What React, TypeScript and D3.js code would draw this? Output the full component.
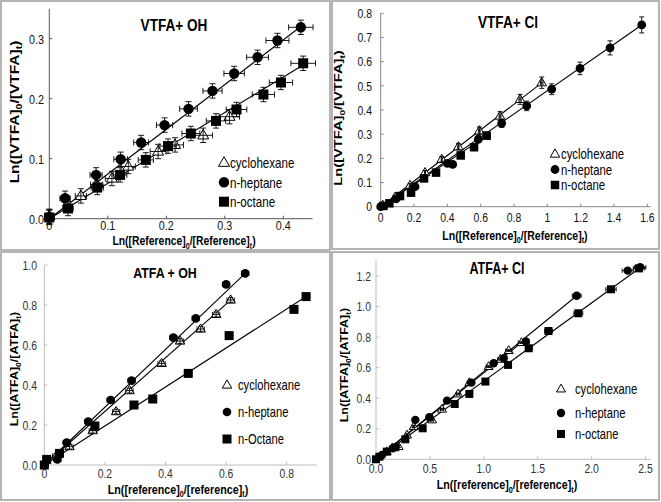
import React from "react";
import * as d3 from "d3";

const FONT = '"Liberation Sans", Arial, Helvetica, sans-serif';
const SX = 0.8; // horizontal squeeze of text, as in the reference

// ---------- Panel 1: VTFA + OH ----------
const p1HeptX = [0, 0.027, 0.08, 0.122, 0.157, 0.197, 0.238, 0.279, 0.316, 0.356, 0.39, 0.43];
const p1HeptY = [0.003, 0.034, 0.073, 0.099, 0.127, 0.156, 0.183, 0.213, 0.242, 0.269, 0.297, 0.319];
const p1OctX = [0, 0.032, 0.082, 0.121, 0.165, 0.203, 0.242, 0.285, 0.32, 0.366, 0.396, 0.434];
const p1OctY = [0.002, 0.017, 0.052, 0.073, 0.098, 0.121, 0.142, 0.163, 0.182, 0.207, 0.227, 0.259];
const p1CycX = [0, 0.054, 0.081, 0.107, 0.135, 0.186, 0.215, 0.263, 0.308];
const p1CycY = [0.004, 0.038, 0.057, 0.067, 0.087, 0.112, 0.123, 0.139, 0.17];
const p1Slopes = [0.745, 0.59]; // heptane, octane
const p1LineEnds = [0.43, 0.434];

// ---------- Panel 2: VTFA + Cl ----------
const p2HeptX = [0, 0.092, 0.206, 0.4, 0.432, 0.586, 0.726, 0.876, 1.026, 1.196, 1.376, 1.566];
const p2HeptY = [0, 0.032, 0.083, 0.179, 0.175, 0.279, 0.345, 0.417, 0.486, 0.572, 0.657, 0.752];
const p2OctX = [0.016, 0.052, 0.116, 0.182, 0.26, 0.332, 0.48, 0.56, 0.636];
const p2OctY = [0.003, 0.014, 0.044, 0.058, 0.117, 0.141, 0.212, 0.246, 0.294];
const p2CycX = [0.012, 0.086, 0.176, 0.266, 0.366, 0.466, 0.592, 0.716, 0.836, 0.966];
const p2CycY = [0.006, 0.039, 0.088, 0.141, 0.196, 0.248, 0.314, 0.375, 0.444, 0.513];
const p2Slopes = [0.53, 0.48, 0.462]; // cyclohexane, heptane, octane
const p2LineEnds = [0.966, 1.566, 0.636];

// ---------- Panel 3: ATFA + OH ----------
const p3HeptX = [0, 0.043, 0.074, 0.145, 0.219, 0.288, 0.426, 0.5, 0.6, 0.663];
const p3HeptY = [0, 0.028, 0.112, 0.217, 0.325, 0.422, 0.637, 0.733, 0.903, 0.958];
const p3OctX = [0, 0.008, 0.05, 0.167, 0.296, 0.358, 0.475, 0.61, 0.824, 0.864];
const p3OctY = [0, 0.028, 0.058, 0.195, 0.3, 0.33, 0.458, 0.647, 0.778, 0.842];
const p3CycX = [0.039, 0.083, 0.16, 0.237, 0.281, 0.387, 0.448, 0.516, 0.567, 0.615];
const p3CycY = [0.045, 0.092, 0.172, 0.267, 0.372, 0.508, 0.62, 0.68, 0.753, 0.825];
const p3Slopes = [1.34, 1.445, 0.975];
const p3LineEnds = [0.615, 0.663, 0.864];

// ---------- Panel 4: ATFA + Cl ----------
const p4HeptX = [0.056, 0.155, 0.365, 0.495, 0.659, 0.885, 1.092, 1.185, 1.39, 1.862, 2.335, 2.45];
const p4HeptY = [0.028, 0.072, 0.258, 0.275, 0.384, 0.502, 0.629, 0.662, 0.771, 1.071, 1.235, 1.257];
const p4OctX = [0, 0.031, 0.1, 0.179, 0.272, 0.433, 0.73, 0.866, 1.015, 1.225, 1.417, 1.6, 1.877, 2.18, 2.44];
const p4OctY = [0, 0.017, 0.05, 0.079, 0.131, 0.203, 0.362, 0.428, 0.509, 0.618, 0.727, 0.84, 0.956, 1.113, 1.25];
const p4CycX = [0.1, 0.21, 0.288, 0.35, 0.52, 0.612, 0.761, 0.866, 1.045, 1.154, 1.231, 1.349];
const p4CycY = [0.05, 0.083, 0.159, 0.214, 0.258, 0.328, 0.428, 0.502, 0.607, 0.655, 0.712, 0.764];
const p4Slopes = [0.566, 0.575, 0.512];
const p4LineEnds = [1.349, 1.862, 2.45];

// ---------- texts ----------
const legendNamesA = ["cyclohexane", "n-heptane", "n-octane"];
const legendNamesB = ["cyclohexane", "n-heptane", "n-Octane"];
const titles = ["VTFA+ OH", "VTFA+ Cl", "ATFA + OH", "ATFA+ Cl"];
const xTitleRef = ["Ln([Reference]", "0", "/[Reference]", "t", ")"];
const xTitleref = ["Ln([reference]", "0", "/[reference]", "t", ")"];
const yTitleV = ["Ln([VTFA]", "0", "/[VTFA]", "t", ")"];
const yTitleA = ["Ln([ATFA]", "0", "/[ATFA]", "t", ")"];

const p1XTicks = [0, 0.1, 0.2, 0.3, 0.4];
const p1XLabels = ["0", "0.1", "0.2", "0.3", "0.4"];
const p1YTicks = [0, 0.1, 0.2, 0.3];
const p1YLabels = ["0.0", "0.1", "0.2", "0.3"];
const p2XTicks = [0, 0.2, 0.4, 0.6, 0.8, 1.0, 1.2, 1.4, 1.6];
const p2XLabels = ["0", "0.2", "0.4", "0.6", "0.8", "1", "1.2", "1.4", "1.6"];
const p2YTicks = [0, 0.1, 0.2, 0.3, 0.4, 0.5, 0.6, 0.7, 0.8];
const p2YLabels = ["0", "0.1", "0.2", "0.3", "0.4", "0.5", "0.6", "0.7", "0.8"];
const p3XTicks = [0, 0.2, 0.4, 0.6, 0.8];
const p3XLabels = ["0", "0.2", "0.4", "0.6", "0.8"];
const p3YTicks = [0, 0.2, 0.4, 0.6, 0.8, 1.0];
const p3YLabels = ["0.0", "0.2", "0.4", "0.6", "0.8", "1.0"];
const p4XTicks = [0, 0.5, 1.0, 1.5, 2.0, 2.5];
const p4XLabels = ["0.0", "0.5", "1.0", "1.5", "2.0", "2.5"];
const p4YTicks = [0, 0.2, 0.4, 0.6, 0.8, 1.0, 1.2];
const p4YLabels = ["0.0", "0.2", "0.4", "0.6", "0.8", "1.0", "1.2"];

type Shape = "tri" | "circ" | "sq";

interface Series { xs: number[]; ys: number[]; shape: Shape }
interface PanelCfg {
  frame: [number, number, number, number];
  xDom: [number, number]; xPx: [number, number];
  yDom: [number, number]; yPx: [number, number];
  xTicks: number[]; xLabels: string[]; yTicks: number[]; yLabels: string[];
  axisColor: string; tickColor: string; tickFont: number;
  xLabelBase: number; yLabelRight: number;
  title: string; titlePos: [number, number]; titleFont: number;
  xTitle: string[]; xTitlePos: [number, number]; xTitleFont: number;
  yTitle: string[]; yTitlePos: [number, number]; yTitleFont: number;
  series: Series[]; slopes: number[]; ends: number[];
  legendNames: string[]; legendMarkX: number; legendTextX: number; legendYs: number[]; legendFont: number;
  size: { r: number; sq: number; tri: number };
  errX: [number, number]; errY: [number, number]; cap: number;
}

function Marker({ shape, x, y, size }: { shape: Shape; x: number; y: number; size: { r: number; sq: number; tri: number } }) {
  if (shape === "circ") return <circle cx={x} cy={y} r={size.r} fill="#000" />;
  if (shape === "sq") return <rect x={x - size.sq / 2} y={y - size.sq / 2} width={size.sq} height={size.sq} fill="#000" />;
  const s = size.tri;
  const h = (s * Math.sqrt(3)) / 2;
  const pts = `${x},${y - h * 0.62} ${x - s / 2},${y + h * 0.38} ${x + s / 2},${y + h * 0.38}`;
  return <polygon points={pts} fill="#fff" stroke="#000" strokeWidth={1} />;
}

function SubText({ parts, x, y, fs, rotate, anchor }: { parts: string[]; x: number; y: number; fs: number; rotate?: boolean; anchor: string }) {
  const sh = fs * 0.28;
  return (
    <text
      transform={`translate(${x},${y}) scale(${SX},1)${rotate ? " rotate(-90)" : ""}`}
      fontFamily={FONT}
      fontWeight="bold"
      fontSize={fs}
      textAnchor={anchor}
      fill="#000"
    >
      {parts.map((p, i) =>
        i % 2 === 1 ? (
          <tspan key={i} fontSize={fs * 0.68} dy={sh}>{p}</tspan>
        ) : (
          <tspan key={i} dy={i > 0 ? -sh : 0}>{p}</tspan>
        )
      )}
    </text>
  );
}

function T({ x, y, fs, children, anchor = "start", bold = false, fill = "#000" }: any) {
  return (
    <text
      transform={`translate(${x},${y}) scale(${SX},1)`}
      fontFamily={FONT}
      fontSize={fs}
      fontWeight={bold ? "bold" : "normal"}
      textAnchor={anchor}
      fill={fill}
    >
      {children}
    </text>
  );
}

function Panel({ c }: { c: PanelCfg }) {
  const xs = d3.scaleLinear().domain(c.xDom).range(c.xPx);
  const ys = d3.scaleLinear().domain(c.yDom).range(c.yPx);
  const line = d3.line<[number, number]>().x((d) => xs(d[0])).y((d) => ys(d[1]));
  const [fx, fy, fw, fh] = c.frame;
  const legendShapes: Shape[] = ["tri", "circ", "sq"];
  const tl = 3;
  return (
    <g>
      <rect x={fx} y={fy} width={fw} height={fh} fill="#fff" stroke="#a3a3a3" strokeWidth={1.6} />
      {/* axes */}
      <line x1={c.xPx[0]} x2={c.xPx[1]} y1={c.yPx[0]} y2={c.yPx[0]} stroke={c.axisColor} strokeWidth={1} />
      <line x1={c.xPx[0]} x2={c.xPx[0]} y1={c.yPx[0]} y2={c.yPx[1]} stroke={c.axisColor} strokeWidth={1} />
      {c.xTicks.map((t, i) => (
        <g key={"xt" + i}>
          <line x1={xs(t)} x2={xs(t)} y1={c.yPx[0]} y2={c.yPx[0] - tl} stroke={c.axisColor} />
          <T x={xs(t)} y={c.xLabelBase} fs={c.tickFont} anchor="middle" fill={c.tickColor}>{c.xLabels[i]}</T>
        </g>
      ))}
      {c.yTicks.map((t, i) => (
        <g key={"yt" + i}>
          <line x1={c.xPx[0]} x2={c.xPx[0] + tl} y1={ys(t)} y2={ys(t)} stroke={c.axisColor} />
          <T x={c.yLabelRight} y={ys(t) + c.tickFont * 0.36} fs={c.tickFont} anchor="end" fill={c.tickColor}>{c.yLabels[i]}</T>
        </g>
      ))}
      {/* fit lines */}
      {c.slopes.map((s, i) => (
        <path key={"l" + i} d={line([[0, 0], [c.ends[i], s * c.ends[i]]]) || ""} fill="none" stroke="#000" strokeWidth={1.1} />
      ))}
      {/* markers + error bars */}
      {c.series.map((se, si) => (
        <g key={"s" + si}>
          {se.xs.map((xv, k) => (
            <Marker key={k} shape={se.shape} x={xs(xv)} y={ys(se.ys[k])} size={c.size} />
          ))}
          {se.xs.map((xv, k) => {
            const yv = se.ys[k];
            const ex = c.errX[0] + c.errX[1] * xv;
            const ey = c.errY[0] + c.errY[1] * yv;
            const px = xs(xv), py = ys(yv);
            const x1 = xs(xv - ex), x2 = xs(xv + ex);
            const y1 = ys(yv - ey), y2 = ys(yv + ey);
            const cp = c.cap;
            return (
              <g key={"e" + k} stroke="#000" strokeWidth={0.9}>
                <line x1={x1} x2={x2} y1={py} y2={py} />
                <line x1={x1} x2={x1} y1={py - cp} y2={py + cp} />
                <line x1={x2} x2={x2} y1={py - cp} y2={py + cp} />
                <line x1={px} x2={px} y1={y1} y2={y2} />
                <line x1={px - cp} x2={px + cp} y1={y1} y2={y1} />
                <line x1={px - cp} x2={px + cp} y1={y2} y2={y2} />
              </g>
            );
          })}
        </g>
      ))}
      {/* titles */}
      <T x={c.titlePos[0]} y={c.titlePos[1]} fs={c.titleFont} anchor="middle" bold>{c.title}</T>
      <SubText parts={c.xTitle} x={c.xTitlePos[0]} y={c.xTitlePos[1]} fs={c.xTitleFont} anchor="middle" />
      <SubText parts={c.yTitle} x={c.yTitlePos[0]} y={c.yTitlePos[1]} fs={c.yTitleFont} anchor="middle" rotate />
      {/* legend */}
      {c.legendNames.map((n, i) => (
        <g key={"lg" + i}>
          <Marker shape={legendShapes[i]} x={c.legendMarkX} y={c.legendYs[i]} size={c.size} />
          <T x={c.legendTextX} y={c.legendYs[i] + c.legendFont * 0.36} fs={c.legendFont}>{n}</T>
        </g>
      ))}
    </g>
  );
}

const panels: PanelCfg[] = [
  {
    frame: [1, 1, 329, 249],
    xDom: [0, 0.45], xPx: [49.3, 49.3 + 0.45 * 585],
    yDom: [0, 0.35], yPx: [218.7, 218.7 - 0.35 * 600],
    xTicks: p1XTicks, xLabels: p1XLabels, yTicks: p1YTicks, yLabels: p1YLabels,
    axisColor: "#555", tickColor: "#111", tickFont: 13.5,
    xLabelBase: 229.5, yLabelRight: 44,
    title: titles[0], titlePos: [174, 31], titleFont: 17,
    xTitle: xTitleRef, xTitlePos: [184, 245], xTitleFont: 13,
    yTitle: yTitleV, yTitlePos: [19, 112], yTitleFont: 15.5,
    series: [
      { xs: p1CycX, ys: p1CycY, shape: "tri" },
      { xs: p1HeptX, ys: p1HeptY, shape: "circ" },
      { xs: p1OctX, ys: p1OctY, shape: "sq" },
    ],
    slopes: p1Slopes, ends: p1LineEnds,
    legendNames: legendNamesA, legendMarkX: 224, legendTextX: 230, legendYs: [162.7, 182.3, 201.7], legendFont: 14.5,
    size: { r: 5.2, sq: 10, tri: 11 },
    errX: [0.008, 0.03], errY: [0.012, 0.0], cap: 3,
  },
  {
    frame: [332, 1, 327, 248],
    xDom: [0, 1.62], xPx: [380.7, 380.7 + 1.62 * 166.67],
    yDom: [0, 0.8], yPx: [206.7, 13.3],
    xTicks: p2XTicks, xLabels: p2XLabels, yTicks: p2YTicks, yLabels: p2YLabels,
    axisColor: "#888", tickColor: "#111", tickFont: 13,
    xLabelBase: 222, yLabelRight: 372,
    title: titles[1], titlePos: [508, 28], titleFont: 17,
    xTitle: xTitleRef, xTitlePos: [515, 239.5], xTitleFont: 13.2,
    yTitle: yTitleV, yTitlePos: [342, 118], yTitleFont: 14.7,
    series: [
      { xs: p2CycX, ys: p2CycY, shape: "tri" },
      { xs: p2HeptX, ys: p2HeptY, shape: "circ" },
      { xs: p2OctX, ys: p2OctY, shape: "sq" },
    ],
    slopes: p2Slopes, ends: p2LineEnds,
    legendNames: legendNamesA, legendMarkX: 555, legendTextX: 561, legendYs: [154, 169.5, 185], legendFont: 14.2,
    size: { r: 4.4, sq: 8.5, tri: 9.5 },
    errX: [0.0, 0.008], errY: [0.003, 0.04], cap: 2.5,
  },
  {
    frame: [1, 252, 329, 248],
    xDom: [0, 0.9], xPx: [44.3, 44.3 + 0.9 * 303],
    yDom: [0, 1.0], yPx: [465, 265],
    xTicks: p3XTicks, xLabels: p3XLabels, yTicks: p3YTicks, yLabels: p3YLabels,
    axisColor: "#bdbdbd", tickColor: "#333", tickFont: 13,
    xLabelBase: 478, yLabelRight: 37,
    title: titles[2], titlePos: [165, 278], titleFont: 15.5,
    xTitle: xTitleref, xTitlePos: [178, 493.5], xTitleFont: 13.4,
    yTitle: yTitleA, yTitlePos: [18, 369], yTitleFont: 12.5,
    series: [
      { xs: p3CycX, ys: p3CycY, shape: "tri" },
      { xs: p3HeptX, ys: p3HeptY, shape: "circ" },
      { xs: p3OctX, ys: p3OctY, shape: "sq" },
    ],
    slopes: p3Slopes, ends: p3LineEnds,
    legendNames: legendNamesB, legendMarkX: 227, legendTextX: 238, legendYs: [385, 412, 439], legendFont: 14,
    size: { r: 4.3, sq: 9, tri: 9.5 },
    errX: [0.012, 0.0], errY: [0.012, 0.0], cap: 2.5,
  },
  {
    frame: [332, 252, 327, 248],
    xDom: [0, 2.55], xPx: [376, 376 + 2.55 * 107.8],
    yDom: [0, 1.3], yPx: [459.3, 459.3 - 1.3 * 152.75],
    xTicks: p4XTicks, xLabels: p4XLabels, yTicks: p4YTicks, yLabels: p4YLabels,
    axisColor: "#bdbdbd", tickColor: "#333", tickFont: 13,
    xLabelBase: 473, yLabelRight: 371,
    title: titles[3], titlePos: [497, 274], titleFont: 15.7,
    xTitle: xTitleref, xTitlePos: [507, 489], xTitleFont: 13.4,
    yTitle: yTitleA, yTitlePos: [348, 365], yTitleFont: 12.5,
    series: [
      { xs: p4CycX, ys: p4CycY, shape: "tri" },
      { xs: p4HeptX, ys: p4HeptY, shape: "circ" },
      { xs: p4OctX, ys: p4OctY, shape: "sq" },
    ],
    slopes: p4Slopes, ends: p4LineEnds,
    legendNames: legendNamesA, legendMarkX: 561, legendTextX: 575, legendYs: [389, 413, 434], legendFont: 14,
    size: { r: 4.2, sq: 8, tri: 9 },
    errX: [0.0, 0.022], errY: [0.006, 0.0], cap: 2.2,
  },
];

export default function App() {
  return (
    <svg
      width={661}
      height={502}
      viewBox="0 0 661 502"
      style={{ position: "absolute", left: 0, top: 0, background: "#fff" }}
    >
      <rect x={0} y={0} width={661} height={502} fill="#fff" />
      {panels.map((c, i) => (
        <Panel key={i} c={c} />
      ))}
    </svg>
  );
}
